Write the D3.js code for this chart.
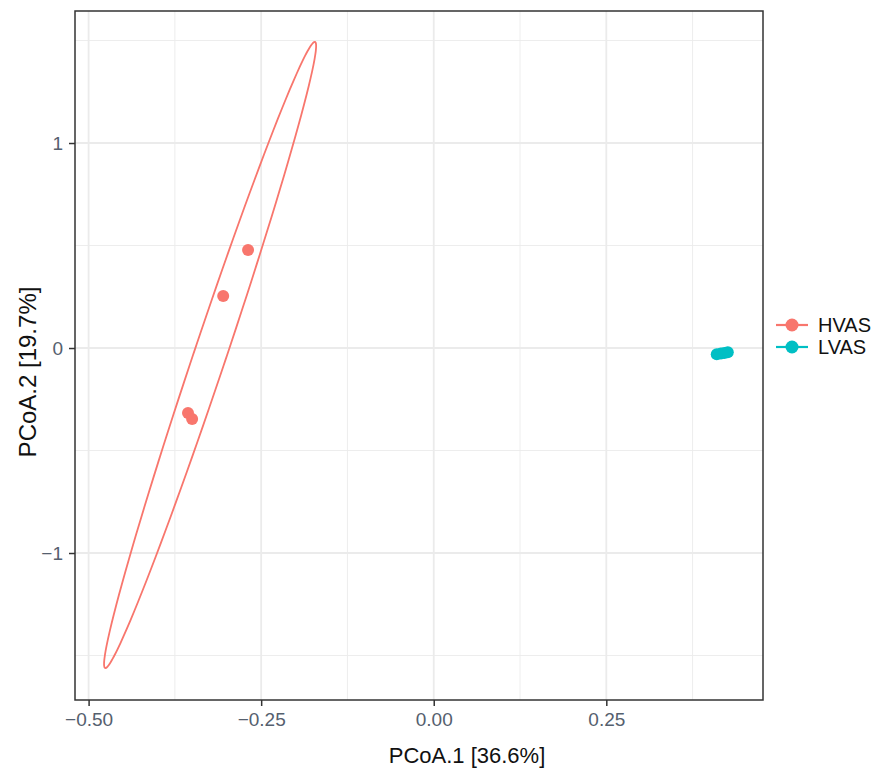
<!DOCTYPE html>
<html>
<head>
<meta charset="utf-8">
<script src="https://cdn.jsdelivr.net/npm/d3@7"></script>
<style>
  body { margin: 0; background: #fff; }
  text { font-family: "Liberation Sans", Arial, sans-serif; }
</style>
</head>
<body>
<div class="container"></div>
<script>
// values
const groups = ["HVAS", "LVAS"];
const colors = ["#F8766D", "#00BFC4"];
const hvasX = [-0.269, -0.305, -0.356, -0.350];
const hvasY = [0.478, 0.254, -0.317, -0.346];
const lvasX = [0.410, 0.416, 0.421, 0.426];
const lvasY = [-0.030, -0.027, -0.024, -0.021];
// HVAS 95% ellipse: centre, half major axis vector, half minor axis vector (data units)
const ellCenter = [-0.324, -0.034];
const ellMajor = [0.152, 1.527];
const ellMinor = [0.0222, -0.0250];
const xTicks = [-0.5, -0.25, 0, 0.25];
const xMinor = [-0.375, -0.125, 0.125, 0.375];
const yTicks = [-1, 0, 1];
const yMinor = [-1.5, -0.5, 0.5, 1.5];

const width = 882, height = 768;
const panel = {left: 75, top: 11, right: 763, bottom: 700};

const svg = d3.select(".container")
  .append("svg")
  .attr("width", width)
  .attr("height", height);

const x_scale = d3.scaleLinear()
  .domain([-0.5197, 0.477])
  .range([panel.left, panel.right]);

const y_scale = d3.scaleLinear()
  .domain([-1.717, 1.644])
  .range([panel.bottom, panel.top]);

// grid
const grid = svg.append("g");
grid.selectAll(".xminor").data(xMinor).join("line")
  .attr("x1", d => x_scale(d)).attr("x2", d => x_scale(d))
  .attr("y1", panel.top).attr("y2", panel.bottom)
  .attr("stroke", "#EBEBEB").attr("stroke-width", 0.9);
grid.selectAll(".yminor").data(yMinor).join("line")
  .attr("y1", d => y_scale(d)).attr("y2", d => y_scale(d))
  .attr("x1", panel.left).attr("x2", panel.right)
  .attr("stroke", "#EBEBEB").attr("stroke-width", 0.9);
grid.selectAll(".xmajor").data(xTicks).join("line")
  .attr("x1", d => x_scale(d)).attr("x2", d => x_scale(d))
  .attr("y1", panel.top).attr("y2", panel.bottom)
  .attr("stroke", "#EBEBEB").attr("stroke-width", 1.8);
grid.selectAll(".ymajor").data(yTicks).join("line")
  .attr("y1", d => y_scale(d)).attr("y2", d => y_scale(d))
  .attr("x1", panel.left).attr("x2", panel.right)
  .attr("stroke", "#EBEBEB").attr("stroke-width", 1.8);

// ellipse
const tSteps = d3.range(0, 360, 3).map(a => a * Math.PI / 180);
const ellPts = tSteps.map(t => [
  ellCenter[0] + ellMajor[0] * Math.cos(t) + ellMinor[0] * Math.sin(t),
  ellCenter[1] + ellMajor[1] * Math.cos(t) + ellMinor[1] * Math.sin(t)
]);
const line = d3.line()
  .curve(d3.curveCardinalClosed)
  .x(d => x_scale(d[0]))
  .y(d => y_scale(d[1]));
svg.append("path")
  .datum(ellPts)
  .attr("fill", "none")
  .attr("stroke", colors[0])
  .attr("stroke-width", 1.8)
  .attr("d", line);

// points
const series = [
  hvasX.map((v, i) => ({x: v, y: hvasY[i], g: 0})),
  lvasX.map((v, i) => ({x: v, y: lvasY[i], g: 1}))
].flat();
svg.append("g").selectAll("circle")
  .data(series)
  .join("circle")
  .attr("cx", d => x_scale(d.x))
  .attr("cy", d => y_scale(d.y))
  .attr("r", 6)
  .attr("fill", d => colors[d.g]);

// panel border
svg.append("rect")
  .attr("x", panel.left).attr("y", panel.top)
  .attr("width", panel.right - panel.left)
  .attr("height", panel.bottom - panel.top)
  .attr("fill", "none")
  .attr("stroke", "#333333")
  .attr("stroke-width", 1.5);

// axes
const x_axis = d3.axisBottom(x_scale)
  .tickValues(xTicks)
  .tickSize(6)
  .tickPadding(7)
  .tickFormat(d3.format(".2f"));
svg.append("g")
  .attr("transform", `translate(0, ${panel.bottom})`)
  .call(x_axis)
  .call(g => g.select(".domain").remove())
  .call(g => g.selectAll(".tick line").attr("stroke", "#333333").attr("stroke-width", 1.5))
  .call(g => g.selectAll(".tick text")
    .attr("fill", "#55606e")
    .attr("font-size", 19)
    .attr("font-family", "Liberation Sans, Arial, sans-serif"));

const y_axis = d3.axisLeft(y_scale)
  .tickValues(yTicks)
  .tickSize(6)
  .tickPadding(6)
  .tickFormat(d3.format("d"));
svg.append("g")
  .attr("transform", `translate(${panel.left}, 0)`)
  .call(y_axis)
  .call(g => g.select(".domain").remove())
  .call(g => g.selectAll(".tick line").attr("stroke", "#333333").attr("stroke-width", 1.5))
  .call(g => g.selectAll(".tick text")
    .attr("fill", "#55606e")
    .attr("font-size", 19)
    .attr("font-family", "Liberation Sans, Arial, sans-serif"));

// axis titles
svg.append("text")
  .attr("x", 467)
  .attr("y", 763)
  .attr("text-anchor", "middle")
  .attr("font-size", 22)
  .attr("fill", "#111")
  .text("PCoA.1 [36.6%]");

svg.append("text")
  .attr("transform", "translate(36, 372) rotate(-90)")
  .attr("text-anchor", "middle")
  .attr("font-size", 24)
  .attr("fill", "#111")
  .text("PCoA.2 [19.7%]");

// legend
const legend = svg.append("g")
  .attr("transform", "translate(776, 325)");
const item = legend.selectAll("g")
  .data(groups)
  .join("g")
  .attr("transform", (d, i) => `translate(0, ${i * 22})`);
item.append("line")
  .attr("x1", 0).attr("x2", 32)
  .attr("stroke", (d, i) => colors[i])
  .attr("stroke-width", 2.2);
item.append("circle")
  .attr("cx", 16)
  .attr("r", 6.5)
  .attr("fill", (d, i) => colors[i]);
item.append("text")
  .attr("x", 42)
  .attr("dy", "0.36em")
  .attr("font-size", 20)
  .attr("fill", "#111")
  .text(d => d);
</script>
</body>
</html>
